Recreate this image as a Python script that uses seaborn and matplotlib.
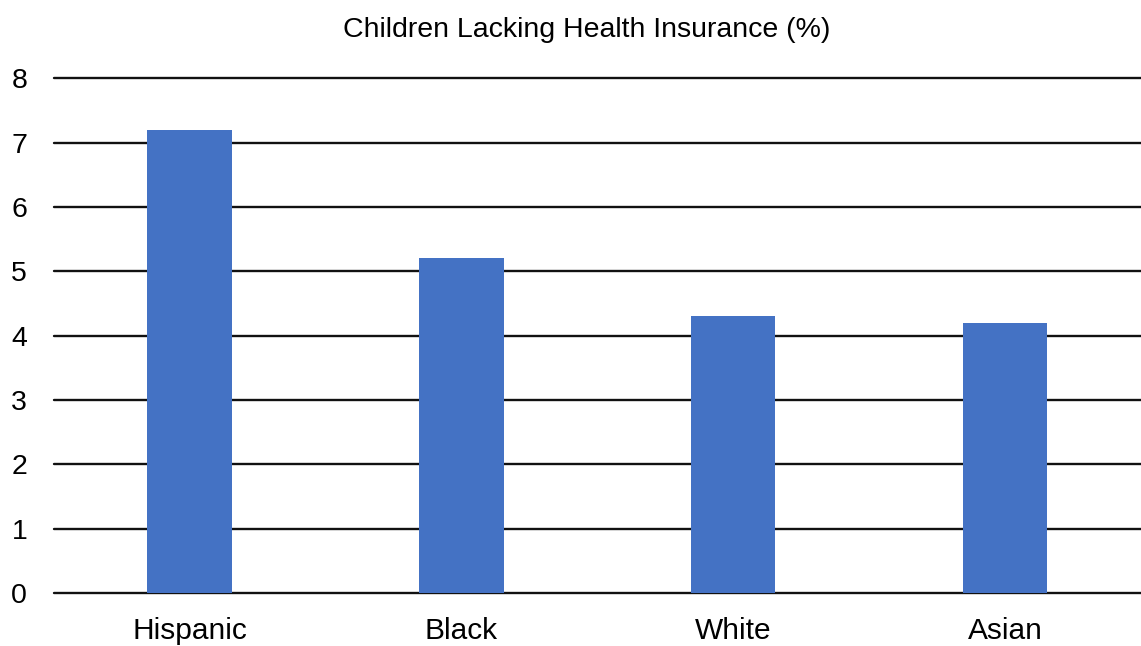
import matplotlib
matplotlib.use("Agg")
import matplotlib.pyplot as plt
import seaborn as sns
import pandas as pd

groups = ["Hispanic", "Black", "White", "Asian"]
pct_uninsured = [7.2, 5.2, 4.3, 4.2]
y_ticks = [0, 1, 2, 3, 4, 5, 6, 7, 8]

sns.set_theme(style="white")
plt.rcParams["font.family"] = ["Liberation Sans", "DejaVu Sans"]

df = pd.DataFrame({"group": groups, "pct": pct_uninsured})

fig = plt.figure(figsize=(11.41, 6.46), dpi=100)
ax = fig.add_axes([0.047, 0.082, 0.953, 0.797])

sns.barplot(data=df, x="group", y="pct", color="#4472C4", saturation=1,
            width=0.31, linewidth=0, ax=ax, zorder=3)

ax.set_ylim(0, 8)
ax.set_xlim(-0.5, 3.5)
ax.set_yticks(y_ticks)
ax.yaxis.grid(True, color="#111111", linewidth=1.7, zorder=0)
for gl in ax.get_ygridlines():
    gl.set_clip_on(False)
ax.set_axisbelow(True)
for s in ax.spines.values():
    s.set_visible(False)
ax.tick_params(axis="y", length=0, pad=19, labelsize=20.5, colors="black")
ax.tick_params(axis="x", length=0, pad=17, labelsize=21.5, colors="black")
ax.set_xlabel("")
ax.set_ylabel("")

fig.text(0.5145, 1 - 37 / 646, "Children Lacking Health Insurance (%)",
         ha="center", va="baseline", fontsize=20.5, color="black")

fig.savefig("out.png", dpi=100)
